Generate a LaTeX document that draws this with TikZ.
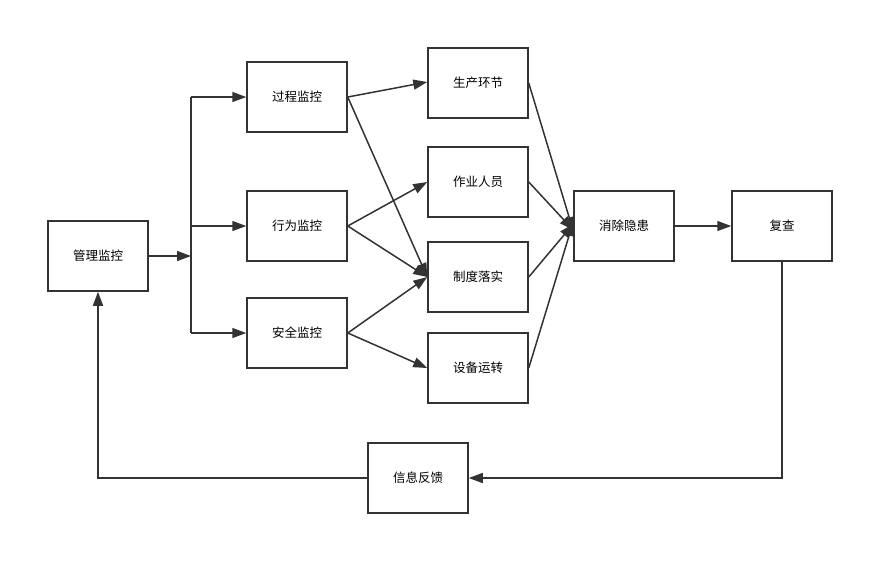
\documentclass[tikz,border=0pt]{standalone}
\usepackage{fontspec}
\setmainfont{Noto Sans CJK SC}
\usetikzlibrary{arrows.meta}
\begin{document}
\begin{tikzpicture}[x=1pt,y=-1pt,line width=1.5pt,draw={rgb,255:red,51;green,51;blue,51},
        box/.style={draw,minimum width=100pt,minimum height=70pt,inner sep=0pt,font=\fontsize{12.5}{15}\selectfont},
        arr/.style={-{Triangle[length=14pt,width=10pt]}}]
        \useasboundingbox (0,0) rectangle (894,574);
        % boxes
        \node[box] (gl) at (98,256) {管理监控};
        \node[box] (gc) at (297,97) {过程监控};
        \node[box] (xw) at (297,226) {行为监控};
        \node[box] (aq) at (297,333) {安全监控};
        \node[box] (sc) at (478,83) {生产环节};
        \node[box] (zy) at (478,182) {作业人员};
        \node[box] (zd) at (478,277) {制度落实};
        \node[box] (sb) at (478,368) {设备运转};
        \node[box] (xc) at (624,226) {消除隐患};
        \node[box] (fc) at (782,226) {复查};
        \node[box] (xx) at (418,478) {信息反馈};
        \coordinate (jn) at (191,256);
        % branch
        \draw[arr] (gl.east) -- (jn);
        \draw (jn |- gc.west) -- (jn |- aq.west);
        \draw[arr] (jn |- gc.west) -- (gc.west);
        \draw[arr] (jn |- xw.west) -- (xw.west);
        \draw[arr] (jn |- aq.west) -- (aq.west);
        % middle
        \draw[arr] (gc.east) -- ([yshift=1pt]sc.west);
        \draw[arr] (gc.east) -- (zd.west);
        \draw[arr] (xw.east) -- (zy.west);
        \draw[arr] (xw.east) -- (zd.west);
        \draw[arr] (aq.east) -- (zd.west);
        \draw[arr] (aq.east) -- (sb.west);
        % right
        \draw[arr] (sc.east) -- ([yshift=-5pt]xc.west);
        \draw[arr] (zy.east) -- ([yshift=-4pt]xc.west);
        \draw[arr] (zd.east) -- ([yshift=2pt]xc.west);
        \draw[arr] (sb.east) -- ([yshift=4pt]xc.west);
        \draw[arr] (xc.east) -- (fc.west);
        % feedback
        \draw[arr] (fc.south) |- (xx.east);
        \draw[arr] (xx.west) -| (gl.south);
\end{tikzpicture}
\end{document}
